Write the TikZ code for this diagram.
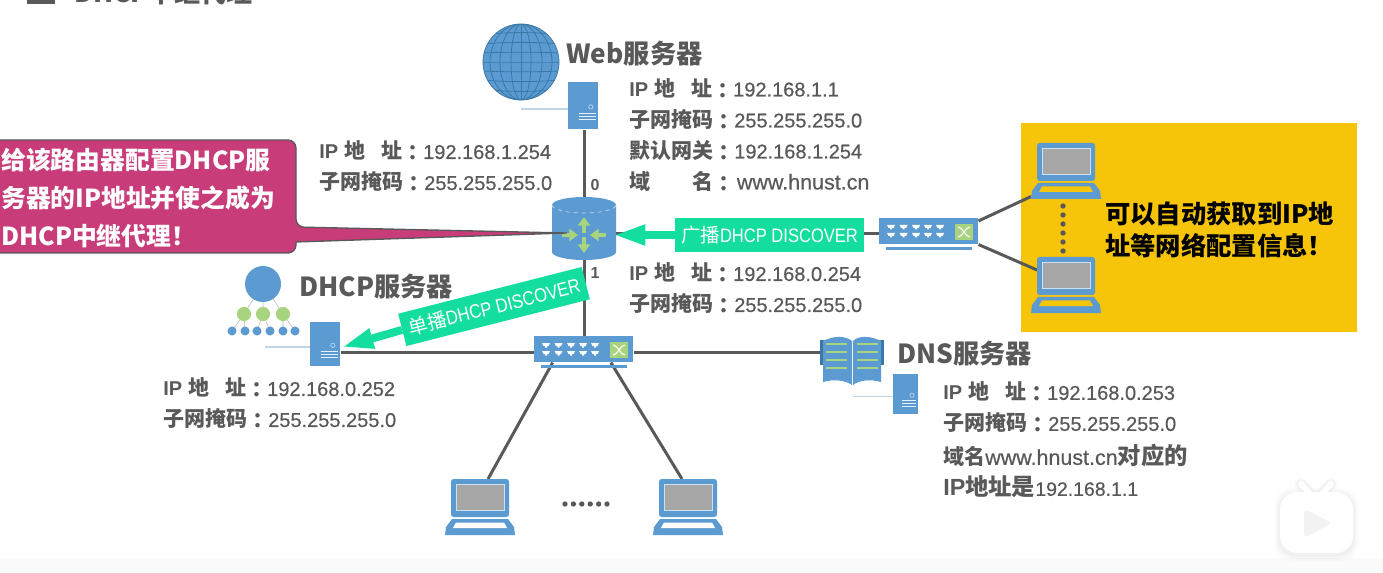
\documentclass[tikz,border=0pt]{standalone}
\usepackage{fontspec}
\setmainfont{Liberation Sans}
\newfontfamily\zhf{Noto Sans CJK SC}
\newfontfamily\tcf{Noto Sans CJK TC}
\newfontfamily\medf[FakeBold=0.5]{Liberation Sans}
\newfontfamily\narrowf[FakeStretch=0.85]{Liberation Sans}
\usetikzlibrary{arrows.meta}
\pgfdeclarelayer{back}
\pgfsetlayers{back,main}
\definecolor{txt}{HTML}{595959}
\definecolor{ic}{HTML}{5B9BD1}
\definecolor{icd}{HTML}{3A78A8}
\definecolor{leaf}{HTML}{A9D47F}
\definecolor{mint}{HTML}{14DE9F}
\definecolor{rose}{HTML}{C93C7A}
\definecolor{amber}{HTML}{F6C409}
\definecolor{scr}{HTML}{A6A6A6}
\definecolor{lite}{HTML}{BFD6EA}
\newcommand{\zh}[1]{{\zhf #1}}
\newcommand{\cn}[1]{{\zhf\fontsize{15.75}{23.25}\selectfont #1}}
\newcommand{\cnb}[1]{{\zhf\fontsize{17.5}{23.25}\selectfont #1}}
\newcommand{\cc}{\raisebox{-1.4pt}{\tcf\fontsize{15.75}{23.25}\selectfont ：}}
\newcommand{\val}[1]{{\medf\mdseries #1}}
\newcommand{\web}[1]{{\medf\mdseries\fontsize{16.1}{23.25}\selectfont #1}}
\newcommand{\ipk}{IP\hspace{5pt}\cn{地}\hspace{11.5pt}\cn{址}\cc}
\newcommand{\mask}{\cn{子网掩码}\cc\val{255.255.255.0}}
\tikzset{
  wire/.style={draw=txt,line width=2.25pt},
  thinwire/.style={draw=lite,line width=0.9pt},
  info/.style={inner sep=0pt,anchor=west,align=left,text=txt,font=\bfseries\fontsize{15}{23.25}\selectfont},
  devtitle/.style={inner sep=0pt,anchor=west,text=txt,font=\bfseries\fontsize{19.7}{24}\selectfont},
  note/.style={inner sep=0pt,anchor=west,align=left,font=\bfseries\fontsize{18.6}{24}\selectfont},
  flag/.style={fill=mint,text=white,inner sep=0pt,minimum width=142pt,minimum height=25pt,font=\narrowf\fontsize{14.6}{16}\selectfont},
  push/.style={draw=mint,line width=6pt,-{Triangle[length=24pt,width=14pt]}},
  dotmark/.style={fill=txt,circle,inner sep=0pt,minimum size=4pt},
  port/.style={inner sep=0pt,text=txt,font=\bfseries\fontsize{12}{14}\selectfont},
}
% name, x, y, w, h, stub length
\newcommand{\ServerIcon}[6]{%
  \node[inner sep=0pt,anchor=north west,fill=ic,minimum width={#4*0.75pt},minimum height={#5*0.75pt}] (#1) at (#2,#3) {};
  \begin{scope}[shift={(#2,#3)}]
    \draw[lite,line width=0.5pt] ({#4*0.76},{#5*0.53}) circle[radius=1.6pt];
    \foreach \k in {0.66,0.73,0.80}
      \draw[white!85!ic,line width=0.7pt] ({#4*0.35},{#5*\k}) -- ({#4*0.92},{#5*\k});
    \draw[thinwire] (0,{#5*0.57}) -- (-#6,{#5*0.57});
  \end{scope}}
% name, x, y, slot colour
\newcommand{\LaptopIcon}[4]{%
  \begin{scope}[shift={(#2,#3)}]
    \node[inner sep=0pt,anchor=north west,minimum width=52.5pt,minimum height=42pt] (#1) at (0,0) {};
    \fill[ic,rounded corners=2pt] (6,38) -- (6,0) -- (64,0) -- (64,38) -- cycle;
    \filldraw[fill=scr,draw=white!70!ic,line width=0.6pt] (11,5) rectangle (59,31);
    \fill[ic] (0,56) -- (1,48) -- (7,40) -- (63,40) -- (69,48) -- (70,56) -- cycle;
    \fill[#4] (8,49) -- (11,43.5) -- (59,43.5) -- (62,49) -- cycle;
  \end{scope}}
% name, x, y
\newcommand{\SwitchIcon}[3]{%
  \begin{scope}[shift={(#2,#3)}]
    \node[inner sep=0pt,anchor=north west,fill=ic,minimum width=74.25pt,minimum height=19.5pt] (#1) at (0,0) {};
    \fill[ic] (7,29) rectangle (93,32);
    \foreach \cx in {12,24.5,37,49,61}
      \foreach \cy in {9,17}
        \fill[white] (\cx-4,\cy-2) -- (\cx+4,\cy-2) -- (\cx+2.5,\cy+1) -- (\cx+1,\cy+1) -- (\cx+1,\cy+2.5) -- (\cx-1,\cy+2.5) -- (\cx-1,\cy+1) -- (\cx-2.5,\cy+1) -- cycle;
    \fill[leaf] (76,6) rectangle (94,22);
    \draw[white,line width=0.8pt] (79,9) .. controls (84,9) and (86,19) .. (91,19);
    \draw[white,line width=0.8pt] (79,19) .. controls (84,19) and (86,9) .. (91,9);
  \end{scope}}
\begin{document}
\begin{tikzpicture}[x=0.75pt,y=-0.75pt]
\useasboundingbox (0,0) rectangle (1383,573);
% heading, cut by the top edge
\fill[txt] (27,0) rectangle (55,4);
\node[inner sep=0pt,anchor=base west,text=txt,font=\bfseries\fontsize{19.5}{24}\selectfont] (heading) at (74,3) {\zh{DHCP中继代理}};
% devices
\draw[thinwire] (521,109) -- (568,109);
\begin{scope}
  \node[circle,inner sep=0pt,minimum size=57pt,fill=ic] (globe) at (521,62) {};
  \clip (521,62) circle[radius=28.5pt];
  \foreach \rx in {10,21,31} \draw[icd,line width=0.6pt] (521,62) ellipse[x radius={\rx*0.75pt},y radius=28.5pt];
  \draw[icd,line width=0.6pt] (521,24) -- (521,100);
  \foreach \dy in {-27,-18,-9,0,9,18,27} \draw[icd,line width=0.6pt] (483,{62+\dy}) .. controls (505,{62+\dy+\dy*0.12}) and (537,{62+\dy+\dy*0.12}) .. (559,{62+\dy});
\end{scope}
\draw[icd,line width=0.6pt] (521,62) circle[radius=28.5pt];
\ServerIcon{web}{568}{82}{30}{47}{0}
\ServerIcon{dhcp}{310}{322}{30}{44}{45}
\ServerIcon{dns}{893}{374}{25}{40}{40}
\SwitchIcon{swa}{534}{336}
\SwitchIcon{swb}{879}{218}
\LaptopIcon{lapa}{1031}{143}{amber}
\LaptopIcon{lapb}{1031}{257}{amber}
\LaptopIcon{lapc}{445}{479}{white}
\LaptopIcon{lapd}{653}{479}{white}
% router
\node[inner sep=0pt,minimum width=48pt,minimum height=47.25pt] (router) at (584,228.5) {};
\fill[ic] (552,205) -- (552,252) arc[x radius=24pt,y radius=6pt,start angle=180,end angle=360] -- (616,205) arc[x radius=24pt,y radius=6pt,start angle=0,end angle=180] -- cycle;
\draw[white!65!ic,line width=0.5pt,dashed] (552,205) arc[x radius=24pt,y radius=6pt,start angle=180,end angle=360];
\draw[leaf,line width=2.4pt,-{Triangle[length=6.5pt,width=9pt]}] (584,233) -- (584,217);
\draw[leaf,line width=2.4pt,-{Triangle[length=6.5pt,width=9pt]}] (584,237) -- (584,253);
\draw[leaf,line width=2.4pt,-{Triangle[length=6.5pt,width=9pt]}] (562,235) -- (578,235);
\draw[leaf,line width=2.4pt,-{Triangle[length=6.5pt,width=9pt]}] (606,235) -- (590,235);
% DHCP tree icon
\draw[lightgray,line width=0.5pt] (263,284) -- (244,314) (263,284) -- (263,314) (263,284) -- (283,314)
  (244,314) -- (232,331) (244,314) -- (245,331) (263,314) -- (257,331) (263,314) -- (270,331) (283,314) -- (283,331) (283,314) -- (295,331);
\fill[ic] (263,284) circle[radius=13.5pt];
\foreach \cx in {244,263,283} \fill[leaf] (\cx,314) circle[radius=5.3pt];
\foreach \cx in {232,245,257,270,283,295} \fill[ic] (\cx,331) circle[radius=3.4pt];
% book icon
\fill[icd] (820,340) rectangle (824,365);
\fill[icd] (880,340) rectangle (884,365);
\fill[ic] (823,341) .. controls (835,335) and (846,336) .. (852,341) -- (852,385) .. controls (845,380) and (833,379) .. (823,382) -- cycle;
\fill[ic] (881,341) .. controls (869,335) and (858,336) .. (853,341) -- (853,385) .. controls (859,380) and (871,379) .. (881,382) -- cycle;
\foreach \cy in {344,352,360,368} {
  \draw[leaf,line width=1.2pt] (826,\cy) -- (847,\cy);
  \draw[leaf,line width=1.2pt] (857,\cy) -- (878,\cy);
}
% yellow panel, foot strip and all wires behind the devices
\begin{pgfonlayer}{back}
  \fill[black!2] (0,558) rectangle (1383,573);
  \node[inner sep=0pt,anchor=north west,fill=amber,minimum width=252pt,minimum height=156.75pt] (panel) at (1021,123) {};
  \draw[wire] (router.north |- web.south) -- (router.north);
  \draw[wire] (router.south) -- (router.south |- swa.north);
  \coordinate (lan) at (583,352);
  \draw[wire] (lan -| dhcp.east) -- (lan -| swa.west);
  \draw[wire] (lan -| swa.east) -- (820,352) coordinate (dnsport);
  \draw[wire] ([xshift=14pt]swa.south west) -- ([xshift=32.25pt]lapc.north west);
  \draw[wire] ([xshift=-17pt]swa.south east) -- ([xshift=21.75pt]lapd.north west);
  \draw[wire] (router.east |- 0,234) -- (swb.west |- 0,234);
  \draw[wire] ([yshift=-2.2pt]swb.north east) -- ([shift={(0,-3)}]lapa.south west);
  \draw[wire] (swb.south east) -- ([shift={(6,13)}]lapb.north west);
\end{pgfonlayer}
\foreach \cy in {206,215,224,233,242,251} \node[dotmark] at (1063,\cy) {};
\foreach \cx in {565,573.4,581.8,590.2,598.6,607} \node[dotmark] at (\cx,504) {};
% callout
\draw[fill=rose,draw=txt,line width=1pt,rounded corners=6pt] (-12,140) -- (296,140) -- (296,227) [sharp corners] -- ([shift={(15,4.5)}]router.west) -- (296,242) [rounded corners=6pt] -- (296,253) -- (-12,253) -- cycle;
\node[note,text=white] (calltext) at (1,198) {\zh{给该路由器配置DHCP服}\\[4.2pt]\zh{务器的IP地址并使之成为}\\[4.2pt]\zh{DHCP中继代理！}};
% yellow panel text
\node[note,text=black,font=\bfseries\fontsize{19}{24}\selectfont] (paneltext) at (1105,230) {\zh{可以自动获取到IP地}\\[0pt]\zh{址等网络配置信息！}};
% flags
\node[flag] (bcast) at (769.5,235) {\zh{广播}DHCP DISCOVER};
\draw[push] (bcast.west) -- ([shift={(-3,6.5)}]router.east);
\node[flag,rotate=14.3] (ucast) at (494,306.5) {\zh{单播}DHCP DISCOVER};
\draw[push] (ucast.west) -- ([shift={(1,3)}]dhcp.east);
% titles
\node[devtitle] (tweb) at (566,54) {\zh{Web服务器}};
\node[devtitle] (tdhcp) at (299,287) {\zh{DHCP服务器}};
\node[devtitle] (tdns) at (897,354) {\zh{DNS服务器}};
% address blocks
\node[info] (iweb) at (629,135) {\ipk\val{192.168.1.1}\\\mask\\\cn{默认网关}\cc\val{192.168.1.254}\\\cn{域}\hspace{31.5pt}\cn{名}\cc\hspace{2pt}\web{www.hnust.cn}};
\node[info] (ira) at (319,166.5) {\ipk\val{192.168.1.254}\\\mask};
\node[info] (irb) at (629,288.5) {\ipk\val{192.168.0.254}\\\mask};
\node[info] (idhcp) at (163,403.5) {\ipk\val{192.168.0.252}\\\mask};
\node[info] (idns) at (943,440) {\ipk\val{192.168.0.253}\\\mask\\[2.25pt]\cn{域名}\web{www.hnust.cn}\cnb{对应的}\\{\fontsize{17.5}{23.25}\selectfont IP}\cnb{地址是}{\medf\mdseries\fontsize{14.6}{23.25}\selectfont 192.168.1.1}};
\node[port] (pz) at (595,185) {0};
\node[port] (po) at (595,273) {1};
% player badge
\foreach \g/\o in {6/0.012,4/0.018,2/0.025} {
  \fill[black,opacity=\o,rounded corners=13pt] (1280-\g,492-\g+2) rectangle (1353+\g,553+\g+2);
  \draw[black,opacity=\o,line width={4.5pt+\g*1pt},line cap=round] (1301,484) -- (1310,494);
  \draw[black,opacity=\o,line width={4.5pt+\g*1pt},line cap=round] (1331,484) -- (1322,494);
}
\fill[white,rounded corners=13pt] (1280,492) rectangle (1353,553);
\draw[white,line width=4.5pt,line cap=round] (1301,484) -- (1310,494);
\draw[white,line width=4.5pt,line cap=round] (1331,484) -- (1322,494);
\fill[black!5,rounded corners=3pt] (1304,509) -- (1332,523) -- (1304,538) -- cycle;
\end{tikzpicture}
\end{document}
